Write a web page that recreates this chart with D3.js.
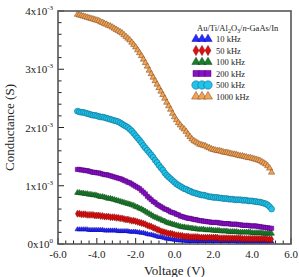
<!DOCTYPE html>
<html>

<head>
    <meta charset="utf-8">
    <style>
        body {
            margin: 0;
            background: #fff;
        }

        svg text {
            font-family: "Liberation Serif", "DejaVu Serif", "Times New Roman", serif;
        }
    </style>
</head>

<body>
    <svg width="299" height="277"></svg>
</body>

<script src="https://d3js.org/d3.v7.min.js"></script>

<script>
    //------------------------1. DATA------------------------//
    // voltage steps (V), -5.0 ... 5.0
    let voltage = d3.range(101).map(i => +(-5 + i * 0.1).toFixed(1))

    // conductance values in units of 1e-3 S (10 values per row = 1 V)
    let g10k = [
        0.25, 0.25, 0.25, 0.25, 0.25, 0.25, 0.24, 0.24, 0.24, 0.24,
        0.24, 0.24, 0.24, 0.24, 0.23, 0.23, 0.23, 0.23, 0.23, 0.23,
        0.23, 0.22, 0.22, 0.22, 0.22, 0.22, 0.22, 0.21, 0.21, 0.21,
        0.21, 0.20, 0.20, 0.19, 0.19, 0.18, 0.17, 0.16, 0.16, 0.15,
        0.14, 0.13, 0.12, 0.12, 0.11, 0.10, 0.09, 0.09, 0.08, 0.08,
        0.07, 0.07, 0.06, 0.06, 0.06, 0.06, 0.05, 0.05, 0.05, 0.05,
        0.05, 0.05, 0.05, 0.05, 0.05, 0.05, 0.05, 0.05, 0.05, 0.05,
        0.05, 0.05, 0.05, 0.05, 0.05, 0.05, 0.05, 0.05, 0.05, 0.05,
        0.05, 0.05, 0.04, 0.04, 0.04, 0.04, 0.04, 0.04, 0.04, 0.04,
        0.04, 0.04, 0.04, 0.04, 0.04, 0.04, 0.04, 0.04, 0.04, 0.04,
        0.04]
    let g50k = [
        0.52, 0.52, 0.51, 0.51, 0.51, 0.50, 0.50, 0.50, 0.50, 0.49,
        0.49, 0.49, 0.48, 0.48, 0.47, 0.47, 0.47, 0.46, 0.46, 0.46,
        0.45, 0.45, 0.44, 0.44, 0.43, 0.42, 0.42, 0.41, 0.40, 0.40,
        0.39, 0.38, 0.37, 0.36, 0.35, 0.34, 0.32, 0.31, 0.30, 0.28,
        0.27, 0.25, 0.24, 0.22, 0.21, 0.20, 0.19, 0.18, 0.18, 0.17,
        0.16, 0.15, 0.15, 0.14, 0.14, 0.13, 0.13, 0.13, 0.12, 0.12,
        0.12, 0.12, 0.12, 0.11, 0.11, 0.11, 0.11, 0.11, 0.11, 0.11,
        0.11, 0.11, 0.11, 0.10, 0.10, 0.10, 0.10, 0.10, 0.10, 0.10,
        0.10, 0.10, 0.10, 0.10, 0.10, 0.09, 0.09, 0.09, 0.09, 0.09,
        0.09, 0.09, 0.09, 0.09, 0.09, 0.09, 0.09, 0.09, 0.08, 0.08,
        0.08]
    let g100k = [
        0.88, 0.88, 0.87, 0.87, 0.86, 0.86, 0.85, 0.85, 0.84, 0.84,
        0.83, 0.82, 0.81, 0.81, 0.80, 0.79, 0.78, 0.78, 0.77, 0.76,
        0.75, 0.74, 0.73, 0.72, 0.71, 0.70, 0.69, 0.68, 0.67, 0.66,
        0.64, 0.63, 0.61, 0.60, 0.58, 0.56, 0.54, 0.52, 0.50, 0.48,
        0.46, 0.45, 0.43, 0.42, 0.40, 0.39, 0.37, 0.36, 0.35, 0.34,
        0.33, 0.32, 0.31, 0.30, 0.29, 0.29, 0.28, 0.28, 0.27, 0.27,
        0.26, 0.26, 0.25, 0.25, 0.25, 0.25, 0.24, 0.24, 0.24, 0.24,
        0.23, 0.23, 0.23, 0.23, 0.22, 0.22, 0.22, 0.22, 0.21, 0.21,
        0.21, 0.21, 0.21, 0.20, 0.20, 0.20, 0.20, 0.20, 0.20, 0.20,
        0.19, 0.19, 0.19, 0.19, 0.19, 0.19, 0.18, 0.18, 0.18, 0.18,
        0.18]
    let g200k = [
        1.28, 1.28, 1.27, 1.27, 1.26, 1.26, 1.25, 1.24, 1.23, 1.23,
        1.22, 1.22, 1.21, 1.20, 1.19, 1.19, 1.18, 1.17, 1.16, 1.15,
        1.14, 1.13, 1.12, 1.11, 1.09, 1.08, 1.06, 1.05, 1.03, 1.01,
        0.99, 0.97, 0.95, 0.92, 0.89, 0.86, 0.82, 0.79, 0.76, 0.73,
        0.71, 0.68, 0.66, 0.64, 0.62, 0.60, 0.59, 0.57, 0.55, 0.54,
        0.53, 0.51, 0.50, 0.48, 0.47, 0.46, 0.45, 0.44, 0.44, 0.43,
        0.42, 0.42, 0.41, 0.40, 0.40, 0.39, 0.39, 0.38, 0.38, 0.37,
        0.37, 0.37, 0.37, 0.36, 0.36, 0.35, 0.35, 0.35, 0.35, 0.34,
        0.34, 0.34, 0.34, 0.33, 0.33, 0.32, 0.32, 0.32, 0.32, 0.31,
        0.31, 0.31, 0.31, 0.30, 0.30, 0.29, 0.29, 0.28, 0.28, 0.27,
        0.27]
    let g500k = [
        2.28, 2.27, 2.26, 2.26, 2.25, 2.24, 2.23, 2.22, 2.21, 2.21,
        2.20, 2.19, 2.18, 2.18, 2.17, 2.16, 2.15, 2.14, 2.13, 2.12,
        2.11, 2.10, 2.08, 2.06, 2.04, 2.02, 2.00, 1.97, 1.94, 1.90,
        1.86, 1.82, 1.78, 1.74, 1.69, 1.65, 1.61, 1.57, 1.53, 1.49,
        1.44, 1.40, 1.35, 1.31, 1.27, 1.22, 1.18, 1.15, 1.12, 1.09,
        1.06, 1.03, 1.01, 0.99, 0.97, 0.95, 0.94, 0.92, 0.91, 0.89,
        0.88, 0.87, 0.86, 0.85, 0.84, 0.84, 0.83, 0.82, 0.81, 0.81,
        0.80, 0.80, 0.80, 0.79, 0.79, 0.78, 0.78, 0.78, 0.77, 0.77,
        0.77, 0.76, 0.76, 0.76, 0.76, 0.75, 0.75, 0.75, 0.74, 0.74,
        0.74, 0.73, 0.73, 0.72, 0.72, 0.71, 0.70, 0.69, 0.67, 0.64,
        0.60]
    let g1000k = [
        3.94, 3.93, 3.92, 3.91, 3.90, 3.89, 3.88, 3.87, 3.86, 3.85,
        3.84, 3.83, 3.81, 3.80, 3.78, 3.77, 3.75, 3.74, 3.72, 3.70,
        3.68, 3.66, 3.64, 3.62, 3.59, 3.56, 3.53, 3.50, 3.46, 3.42,
        3.38, 3.33, 3.28, 3.23, 3.17, 3.11, 3.05, 2.98, 2.92, 2.86,
        2.80, 2.74, 2.68, 2.62, 2.56, 2.50, 2.43, 2.37, 2.31, 2.24,
        2.18, 2.13, 2.08, 2.04, 2.00, 1.97, 1.93, 1.88, 1.84, 1.80,
        1.77, 1.75, 1.73, 1.71, 1.70, 1.69, 1.68, 1.66, 1.65, 1.63,
        1.62, 1.61, 1.60, 1.60, 1.59, 1.58, 1.57, 1.57, 1.56, 1.55,
        1.54, 1.54, 1.53, 1.52, 1.51, 1.51, 1.50, 1.49, 1.48, 1.48,
        1.47, 1.46, 1.45, 1.44, 1.43, 1.41, 1.39, 1.37, 1.34, 1.30,
        1.23]

    let seriesNames = ["10 kHz", "50 kHz", "100 kHz", "200 kHz", "500 kHz", "1000 kHz"]
    let seriesValues = [g10k, g50k, g100k, g200k, g500k, g1000k]

    let xTicks = [-6, -4, -2, 0, 2, 4, 6]
    let yTicks = [0, 1, 2, 3, 4]
    let yTickExp = ["0", "-3", "-3", "-3", "-3"]

    //------------------------2. PREPARATION------------------------//
    let svg = d3.select("svg")
    let margin = {top: 11, right: 8, bottom: 33, left: 58}
    let width = 299
    let height = 277
    let serif = "'Liberation Serif', 'DejaVu Serif', serif"

    let x = d3.scaleLinear().domain([-6, 6]).range([margin.left, width - margin.right])
    let y = d3.scaleLinear().domain([0, 4]).range([height - margin.bottom, margin.top])

    // marker styles per series
    let styles = [
        {shape: d3.symbolTriangle, size: 10, fill: "#2a2aff", stroke: "#0000a0"},
        {shape: d3.symbolDiamond, size: 14, fill: "#e01010", stroke: "#800000"},
        {shape: d3.symbolTriangle, size: 14, fill: "#1b7d2a", stroke: "#0a4214"},
        {shape: d3.symbolSquare, size: 18, fill: "#8a10c8", stroke: "#4a0070"},
        {shape: d3.symbolCircle, size: 28, fill: "#20c4ea", stroke: "#0a5f80"},
        {shape: d3.symbolTriangle, size: 17, fill: "#f0a458", stroke: "#7a4010"}
    ]

    //------------------------3. AXES------------------------//
    let bottom = height - margin.bottom

    // minor + major ticks (pointing inward)
    let xMinor = d3.range(-6, 6.01, 0.4)
    svg.append("g")
        .selectAll("line")
        .data(xMinor)
        .join("line")
        .attr("x1", d => x(d)).attr("x2", d => x(d))
        .attr("y1", bottom)
        .attr("y2", d => xTicks.some(t => Math.abs(t - d) < 1e-6) ? bottom - 6 : bottom - 3.5)
        .style("stroke", "#222")
        .style("stroke-width", 1)

    let yMinor = d3.range(0, 4.01, 0.2)
    svg.append("g")
        .selectAll("line")
        .data(yMinor)
        .join("line")
        .attr("y1", d => y(d)).attr("y2", d => y(d))
        .attr("x1", margin.left)
        .attr("x2", d => yTicks.some(t => Math.abs(t - d) < 1e-6) ? margin.left + 6 : margin.left + 3.5)
        .style("stroke", "#222")
        .style("stroke-width", 1)

    // x tick labels
    svg.append("g")
        .selectAll("text")
        .data(xTicks)
        .join("text")
        .attr("x", d => x(d))
        .attr("y", bottom + 14)
        .attr("text-anchor", "middle")
        .attr("font-family", serif)
        .style("font-size", "11px")
        .style("fill", "#222")
        .text(d => d3.format(".1f")(d).replace("−", "-"))

    // y tick labels with exponent
    let ylab = svg.append("g")
        .selectAll("text")
        .data(yTicks)
        .join("text")
        .attr("x", margin.left - 5)
        .attr("y", d => y(d) + 4)
        .attr("text-anchor", "end")
        .attr("font-family", serif)
        .style("font-size", "11px")
        .style("fill", "#222")
    ylab.append("tspan").text(d => d + "x10")
    ylab.append("tspan")
        .attr("dy", -5)
        .style("font-size", "7px")
        .text((d, i) => yTickExp[i])

    // axis titles
    svg.append("text")
        .attr("x", x(0))
        .attr("y", 275)
        .attr("text-anchor", "middle")
        .attr("font-family", serif)
        .style("font-size", "13px")
        .style("fill", "#222")
        .text("Voltage (V)")

    svg.append("text")
        .attr("transform", "translate(14," + ((margin.top + bottom) / 2) + ") rotate(-90)")
        .attr("text-anchor", "middle")
        .attr("font-family", serif)
        .style("font-size", "13px")
        .style("fill", "#222")
        .text("Conductance (S)")

    //------------------------4. DATA MARKS------------------------//
    seriesValues.forEach(function (vals, k) {
        let st = styles[k]
        svg.append("g")
            .selectAll("path")
            .data(vals)
            .join("path")
            .attr("transform", (d, i) => "translate(" + x(voltage[i]) + "," + y(d) + ")")
            .attr("d", d3.symbol().type(st.shape).size(st.size))
            .style("fill", st.fill)
            .style("stroke", st.stroke)
            .style("stroke-width", 0.5)
    })

    // frame
    svg.append("rect")
        .attr("x", margin.left)
        .attr("y", margin.top)
        .attr("width", width - margin.right - margin.left)
        .attr("height", bottom - margin.top)
        .style("fill", "none")
        .style("stroke", "#555")
        .style("stroke-width", 1.6)

    //------------------------5. LEGEND------------------------//
    let legend = svg.append("g")

    let title = legend.append("text")
        .attr("x", 197)
        .attr("y", 31)
        .attr("font-family", serif)
        .style("font-size", "8.5px")
        .style("fill", "#222")
    title.append("tspan").text("Au/Ti/Al")
    title.append("tspan").attr("dy", 2).style("font-size", "6px").text("2")
    title.append("tspan").attr("dy", -2).text("O")
    title.append("tspan").attr("dy", 2).style("font-size", "6px").text("3")
    title.append("tspan").attr("dy", -2).text("/")
    title.append("tspan").style("font-style", "italic").text("n")
    title.append("tspan").text("-GaAs/In")

    seriesNames.forEach(function (name, k) {
        let st = styles[k]
        let ly = 39 + k * 11.5
        legend.append("g")
            .selectAll("path")
            .data([0, 1, 2])
            .join("path")
            .attr("transform", d => "translate(" + (196 + d * 6) + "," + ly + ")")
            .attr("d", d3.symbol().type(st.shape).size(Math.max(st.size * 2, 30)))
            .style("fill", st.fill)
            .style("stroke", st.stroke)
            .style("stroke-width", 0.5)
        legend.append("text")
            .attr("x", 216)
            .attr("y", ly + 3)
            .attr("font-family", serif)
            .style("font-size", "8.5px")
            .style("fill", "#222")
            .text(name)
    })
</script>

</html>
